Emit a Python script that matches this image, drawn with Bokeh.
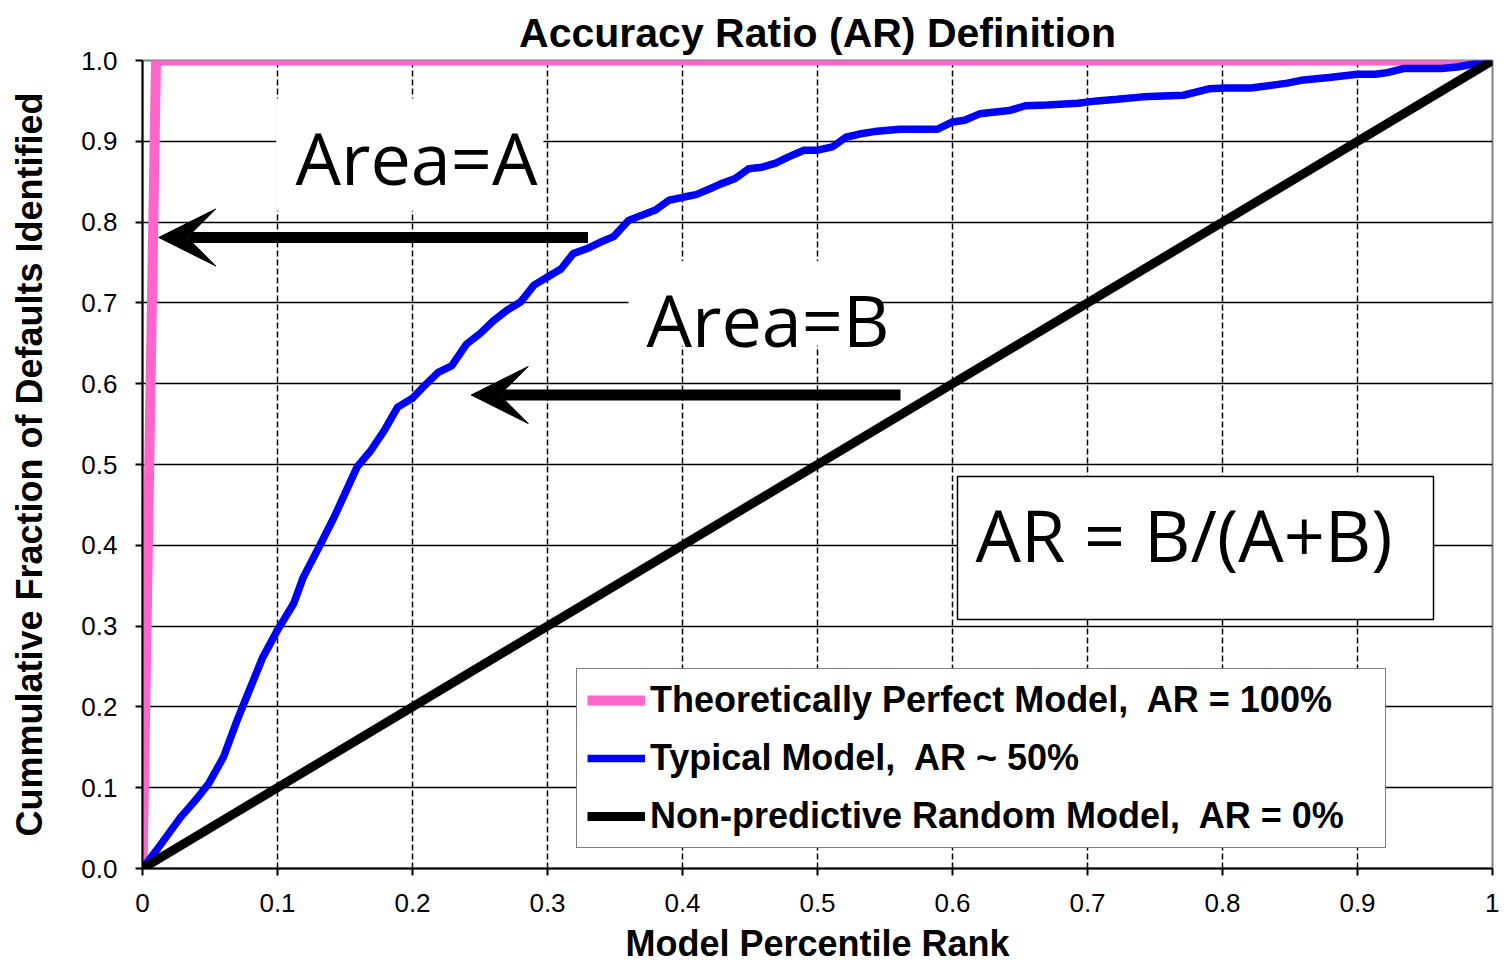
from bokeh.plotting import figure
from bokeh.models import (Range1d, FixedTicker, Legend, LegendItem, Label, Arrow,
                          VeeHead, BoxAnnotation)
from bokeh.embed import file_html
from bokeh.resources import INLINE

# ---------------- data ----------------
perfect_x = [0.0, 0.01, 1.0]
perfect_y = [0.0, 1.0, 1.0]

random_x = [0.0, 1.0]
random_y = [0.0, 1.0]

typical_x = [0.000, 0.011, 0.028, 0.040, 0.049, 0.060, 0.070, 0.078, 0.089, 0.100,
             0.112, 0.119, 0.132, 0.142, 0.159, 0.169, 0.179, 0.189, 0.200, 0.208,
             0.219, 0.229, 0.240, 0.250, 0.260, 0.270, 0.280, 0.290, 0.300, 0.310,
             0.319, 0.329, 0.339, 0.349, 0.360, 0.369, 0.380, 0.390, 0.401, 0.410,
             0.420, 0.428, 0.439, 0.449, 0.459, 0.469, 0.479, 0.490, 0.500, 0.511,
             0.521, 0.531, 0.542, 0.561, 0.589, 0.600, 0.609, 0.620, 0.642, 0.654,
             0.670, 0.693, 0.707, 0.722, 0.741, 0.771, 0.790, 0.802, 0.821, 0.848,
             0.860, 0.879, 0.900, 0.913, 0.922, 0.934, 0.962, 0.974, 1.000]
typical_y = [0.000, 0.024, 0.063, 0.086, 0.105, 0.138, 0.183, 0.216, 0.261, 0.295,
             0.328, 0.360, 0.402, 0.435, 0.497, 0.517, 0.542, 0.571, 0.582, 0.596,
             0.614, 0.622, 0.649, 0.662, 0.678, 0.691, 0.701, 0.722, 0.732, 0.742,
             0.761, 0.767, 0.775, 0.782, 0.802, 0.808, 0.815, 0.827, 0.831, 0.834,
             0.841, 0.847, 0.854, 0.866, 0.868, 0.873, 0.881, 0.889, 0.889, 0.893,
             0.905, 0.909, 0.912, 0.915, 0.915, 0.924, 0.926, 0.934, 0.938, 0.944,
             0.945, 0.947, 0.950, 0.952, 0.955, 0.957, 0.965, 0.966, 0.966, 0.972,
             0.976, 0.979, 0.983, 0.983, 0.985, 0.990, 0.990, 0.992, 1.000]

x_ticks = [0.0, 0.1, 0.2, 0.3, 0.4, 0.5, 0.6, 0.7, 0.8, 0.9, 1.0]
x_tick_labels = ["0", "0.1", "0.2", "0.3", "0.4", "0.5", "0.6", "0.7", "0.8", "0.9", "1"]
y_ticks = [0.0, 0.1, 0.2, 0.3, 0.4, 0.5, 0.6, 0.7, 0.8, 0.9, 1.0]
y_tick_labels = ["0.0", "0.1", "0.2", "0.3", "0.4", "0.5", "0.6", "0.7", "0.8", "0.9", "1.0"]
grid_ticks = [0.1, 0.2, 0.3, 0.4, 0.5, 0.6, 0.7, 0.8, 0.9]

legend_labels = ["Theoretically Perfect Model,  AR = 100%",
                 "Typical Model,  AR ~ 50%",
                 "Non-predictive Random Model,  AR = 0%"]

FONT = "Liberation Sans"
BIG = "Open Sans"

# ---------------- figure ----------------
p = figure(width=1499, height=970, x_range=Range1d(0, 1), y_range=Range1d(0, 1),
           output_backend="svg", toolbar_location=None,
           min_border_left=142, min_border_right=7, min_border_top=60, min_border_bottom=102)

p.title.text = "Accuracy Ratio (AR) Definition"
p.title.align = "center"
p.title.text_font = FONT
p.title.text_font_size = "41px"
p.title.text_font_style = "bold"
p.title.text_color = "black"
p.title.standoff = 10

p.outline_line_color = "#808080"
p.outline_line_width = 2
p.background_fill_color = "white"
p.border_fill_color = "white"

for ax in (p.xaxis[0], p.yaxis[0]):
    ax.axis_line_color = "black"
    ax.axis_line_width = 2
    ax.major_tick_line_color = "black"
    ax.major_tick_line_width = 2
    ax.major_tick_in = 0
    ax.major_tick_out = 7
    ax.minor_tick_line_color = None
    ax.major_label_text_font = FONT
    ax.major_label_text_font_size = "26px"
    ax.major_label_text_color = "black"
    ax.axis_label_text_font = FONT
    ax.axis_label_text_font_size = "36px"
    ax.axis_label_text_font_style = "bold"
    ax.axis_label_text_color = "black"

p.xaxis.ticker = FixedTicker(ticks=x_ticks)
p.xaxis.major_label_overrides = {t: l for t, l in zip(x_ticks, x_tick_labels)}
p.yaxis.ticker = FixedTicker(ticks=y_ticks)
p.yaxis.major_label_overrides = {t: l for t, l in zip(y_ticks, y_tick_labels)}
p.xaxis.axis_label = "Model Percentile Rank"
p.yaxis.axis_label = "Cummulative Fraction of Defaults Identified"
p.xaxis.major_label_standoff = 18
p.xaxis.axis_label_standoff = 8
p.yaxis.major_label_standoff = 18
p.yaxis.axis_label_standoff = 28

p.xgrid.ticker = FixedTicker(ticks=grid_ticks)
p.ygrid.ticker = FixedTicker(ticks=grid_ticks)
p.xgrid.grid_line_color = "black"
p.xgrid.grid_line_width = 1.5
p.xgrid.grid_line_dash = "6 3"
p.ygrid.grid_line_color = "black"
p.ygrid.grid_line_width = 1.5

# white backgrounds behind the annotation texts (hide gridlines)
box_a = BoxAnnotation(left=0.099, right=0.297, bottom=0.814, top=0.953,
                      fill_color="white", fill_alpha=1, line_color=None, level="underlay")
box_b = BoxAnnotation(left=0.360, right=0.547, bottom=0.647, top=0.752,
                      fill_color="white", fill_alpha=1, line_color=None, level="underlay")
box_ar = BoxAnnotation(left=0.6037, right=0.9563, bottom=0.3082, top=0.4851,
                       fill_color="white", fill_alpha=1, line_color="black", line_alpha=1,
                       line_width=1.5, level="underlay")
for b in (box_a, box_b, box_ar):
    p.add_layout(b)

# ---------------- lines ----------------
r_pink = p.line(perfect_x, perfect_y, line_color="#FF66CC", line_width=10)
r_blue = p.line(typical_x, typical_y, line_color="#0000FF", line_width=7.5)
r_black = p.line(random_x, random_y, line_color="black", line_width=9)

# ---------------- texts ----------------
p.add_layout(Label(x=0.1133, y=0.8806, text="Area=A", text_font=BIG, text_font_size="72px",
                   text_color="black", text_baseline="alphabetic", text_align="left"))
p.add_layout(Label(x=0.3733, y=0.6805, text="Area=B", text_font=BIG, text_font_size="72px",
                   text_color="black", text_baseline="alphabetic", text_align="left"))
p.add_layout(Label(x=0.617, y=0.4143, text="AR = B/(A+B)", text_font=BIG, text_font_size="72px",
                   text_color="black", text_baseline="alphabetic", text_align="left"))

# ---------------- arrows ----------------
p.add_layout(Arrow(end=VeeHead(size=57, fill_color="black", line_color="black"),
                   x_start=0.330, y_start=0.781, x_end=0.012, y_end=0.781,
                   line_color="black", line_width=11))
p.add_layout(Arrow(end=VeeHead(size=57, fill_color="black", line_color="black"),
                   x_start=0.5615, y_start=0.5860, x_end=0.2435, y_end=0.5860,
                   line_color="black", line_width=11))

# ---------------- legend ----------------
legend = Legend(items=[LegendItem(label=legend_labels[0], renderers=[r_pink]),
                       LegendItem(label=legend_labels[1], renderers=[r_blue]),
                       LegendItem(label=legend_labels[2], renderers=[r_black])],
                location=(434, 20), orientation="vertical")
legend.label_text_font = FONT
legend.label_text_font_size = "36px"
legend.label_text_font_style = "bold"
legend.label_text_color = "black"
legend.glyph_width = 58
legend.glyph_height = 40
legend.label_height = 40
legend.label_standoff = 5
legend.label_width = 725
legend.spacing = 16
legend.padding = 10
legend.margin = 0
legend.border_line_color = "black"
legend.border_line_width = 1.5
legend.background_fill_color = "white"
legend.background_fill_alpha = 1
p.add_layout(legend)

open("out.html", "w").write(file_html(p, INLINE))
